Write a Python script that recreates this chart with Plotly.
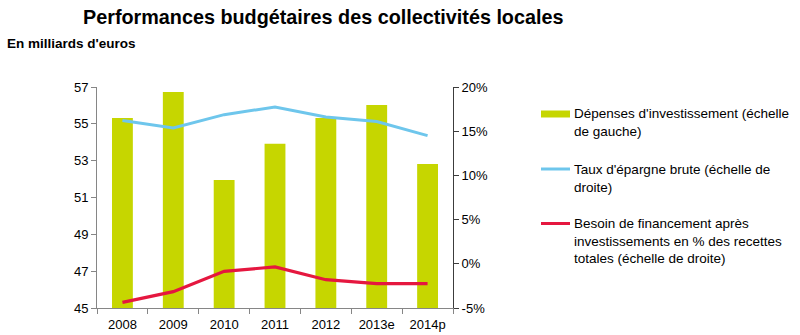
import plotly.graph_objects as go

years = ["2008", "2009", "2010", "2011", "2012", "2013e", "2014p"]
depenses = [55.32, 56.73, 51.95, 53.92, 55.32, 56.02, 52.82]
epargne = [16.2, 15.36, 16.87, 17.74, 16.6, 16.1, 14.5]
besoin = [-4.36, -3.15, -0.85, -0.36, -1.8, -2.25, -2.25]

left_ticks = [45, 47, 49, 51, 53, 55, 57]
right_ticks = [-5, 0, 5, 10, 15, 20]
right_labels = ["-5%", "0%", "5%", "10%", "15%", "20%"]

GREEN = "#c6d600"
BLUE = "#6ec6ec"
RED = "#e5173f"
FONT = "Liberation Sans, Arial, sans-serif"

fig = go.Figure()
fig.add_trace(go.Bar(x=years, y=depenses, marker=dict(color=GREEN, line=dict(width=0)),
                     name="Dépenses d'investissement (échelle de gauche)", yaxis="y"))
fig.add_trace(go.Scatter(x=years, y=epargne, mode="lines", line=dict(color=BLUE, width=3),
                         name="Taux d'épargne brute (échelle de droite)", yaxis="y2"))
fig.add_trace(go.Scatter(x=years, y=besoin, mode="lines", line=dict(color=RED, width=3.2),
                         name="Besoin de financement", yaxis="y2"))

fig.update_layout(
    template="none",
    width=800, height=335,
    margin=dict(l=97, r=347, t=87, b=27, autoexpand=False),
    paper_bgcolor="white", plot_bgcolor="white",
    showlegend=False,
    bargap=0.59,
    font=dict(family=FONT, size=13, color="#000000"),
    xaxis=dict(type="category", showgrid=False, showline=True, linecolor="#868686", linewidth=1,
               ticks="outside", tickson="boundaries", ticklen=5, tickcolor="#868686",
               tickfont=dict(size=13), zeroline=False, automargin=False, ticklabelstandoff=4),
    yaxis=dict(range=[45, 57], tickvals=left_ticks, showgrid=False, showline=True,
               linecolor="#868686", linewidth=1, ticks="outside", ticklen=5,
               tickcolor="#868686", tickfont=dict(size=13), zeroline=False, automargin=False),
    yaxis2=dict(range=[-5, 20], tickvals=right_ticks, ticktext=right_labels, overlaying="y",
                side="right", showgrid=False, showline=True, linecolor="#3c3c3c", linewidth=1,
                ticks="outside", ticklen=5, tickcolor="#3c3c3c", tickfont=dict(size=13),
                zeroline=False, automargin=False),
)

anns = [
    dict(text="<b>Performances budgétaires des collectivités locales</b>", x=81, y=17,
         font=dict(size=19.8)),
    dict(text="<b>En milliards d'euros</b>", x=5, y=43, font=dict(size=13.5)),
    dict(text="Dépenses d'investissement (échelle<br>de gauche)", x=572, y=112.5, font=dict(size=13.5)),
    dict(text="Taux d'épargne brute (échelle de<br>droite)", x=572, y=168, font=dict(size=13.5)),
    dict(text="Besoin de financement après<br>investissements en % des recettes<br>totales (échelle de droite)",
         x=572, y=222, font=dict(size=13.5)),
]
for a in anns:
    fs = a["font"]["size"]
    fig.add_annotation(text=a["text"], xref="paper", yref="paper",
                       x=(a["x"] - 97) / 356, y=1 - (a["y"] - 87) / 221,
                       xanchor="left", yanchor="middle" if "<br>" not in a["text"] else "top",
                       yshift=(fs * 0.6 if "<br>" in a["text"] else 0),
                       showarrow=False, align="left", font=dict(family=FONT, size=fs, color="#000"))

def px(x):
    return (x - 97) / 356

def py(y):
    return 1 - (y - 87) / 221

fig.add_shape(type="rect", xref="paper", yref="paper", x0=px(541), x1=px(570), y0=py(110.5), y1=py(117.5),
              fillcolor=GREEN, line=dict(width=0))
fig.add_shape(type="line", xref="paper", yref="paper", x0=px(541), x1=px(570), y0=py(169), y1=py(169),
              line=dict(color=BLUE, width=3))
fig.add_shape(type="line", xref="paper", yref="paper", x0=px(541), x1=px(570), y0=py(223.5), y1=py(223.5),
              line=dict(color=RED, width=3))

fig.write_html("out.html")
